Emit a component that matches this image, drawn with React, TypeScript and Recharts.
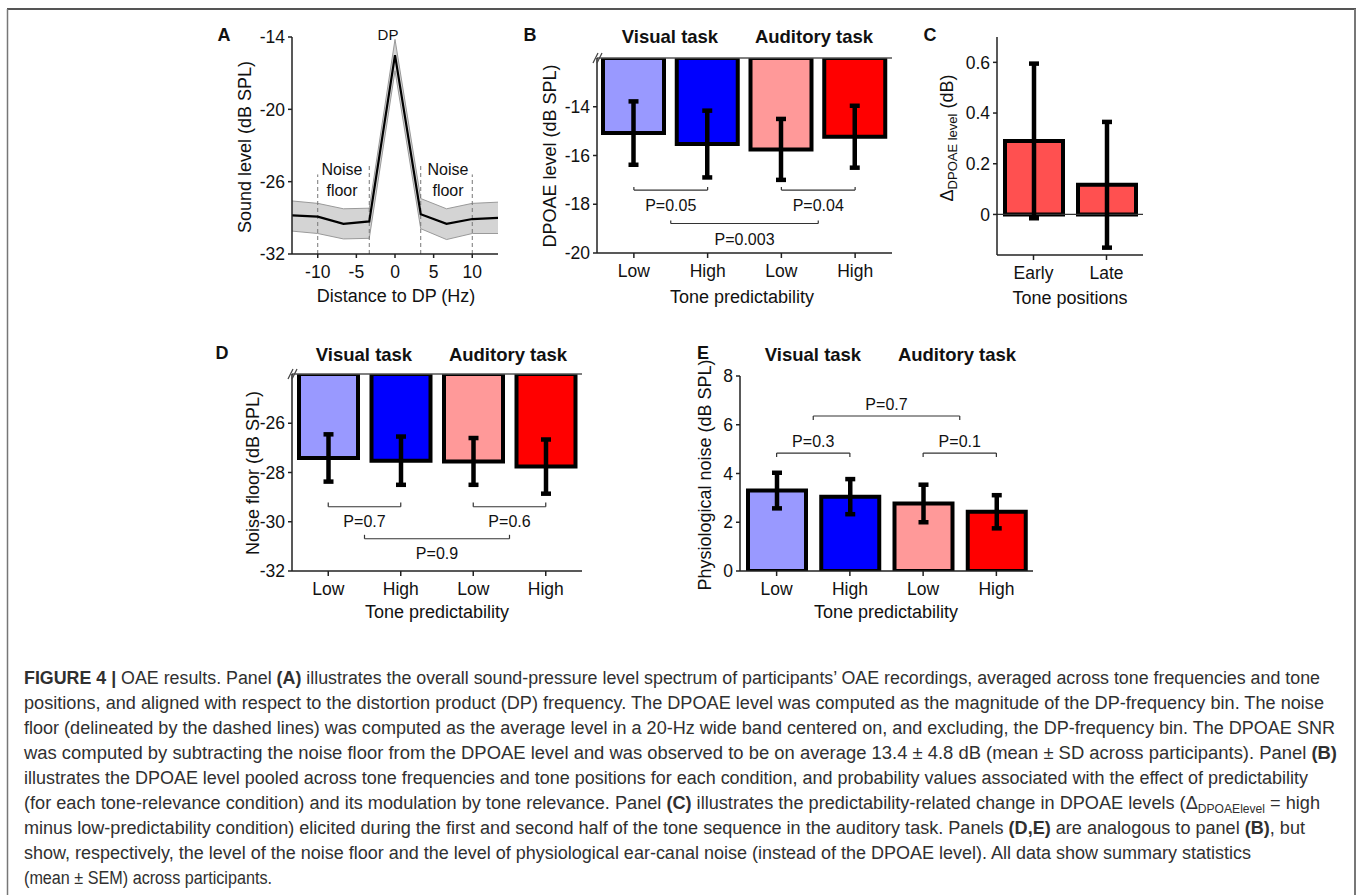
import React from "react";
import {
  BarChart,
  Bar,
  Cell,
  ErrorBar,
  XAxis,
  YAxis,
  ReferenceLine,
  ComposedChart,
  Area,
  Line,
} from "recharts";

const FONT = '"Liberation Sans", Arial, Helvetica, sans-serif';
const INK = "#111";
const AXIS = "#222";

// Panel A: spectrum around the DP bin (bins ~3.33 Hz apart)
const freqA = [-13.33, -10, -6.67, -3.33, 0, 3.33, 6.67, 10, 13.33];
const meanA = [-28.8, -28.9, -29.5, -29.3, -15.5, -28.7, -29.5, -29.1, -29.0];
const lowA = [-30.1, -30.3, -30.75, -30.7, -16.8, -29.9, -30.8, -30.3, -30.3];
const highA = [-27.6, -27.8, -28.25, -28.2, -14.2, -27.4, -28.25, -27.8, -27.7];
const ticksAX = [-10, -5, 0, 5, 10];
const ticksAY = [-32, -26, -20, -14];
const noiseEdgesA = [-10, -3.33, 3.33, 10];
const noiseEdgeTopA = [-25.4, -24.7, -24.7, -25.4];

// Panels B, D, E: visual task (low, high), auditory task (low, high)
const predictability = ["Low", "High", "Low", "High"];
const condColors = ["#9999ff", "#0000ff", "#ff9999", "#ff0000"];
const dpoaeMean = [-15.08, -15.53, -15.75, -15.23];
const dpoaeSem = [1.3, 1.37, 1.25, 1.27];
const noiseMean = [-27.41, -27.52, -27.55, -27.76];
const noiseSem = [0.96, 0.98, 0.95, 1.1];
const physMean = [3.3, 3.05, 2.77, 2.43];
const physSem = [0.73, 0.72, 0.77, 0.68];

// Panel C: high minus low predictability, auditory task
const tonePositions = ["Early", "Late"];
const deltaMean = [0.29, 0.117];
const deltaSem = [0.305, 0.248];

// significance brackets, x in bar slots (0.5 = first bar centre)
type Bracket = { x1: number; x2: number; y: number; end: number; p: string };
const bracketsB: Bracket[] = [
  { x1: 0.5, x2: 1.5, y: -17.42, end: -17.29, p: "P=0.05" },
  { x1: 2.5, x2: 3.5, y: -17.42, end: -17.29, p: "P=0.04" },
  { x1: 1, x2: 3, y: -18.79, end: -18.67, p: "P=0.003" },
];
const bracketsD: Bracket[] = [
  { x1: 0.5, x2: 1.5, y: -29.39, end: -29.22, p: "P=0.7" },
  { x1: 2.5, x2: 3.5, y: -29.39, end: -29.22, p: "P=0.6" },
  { x1: 1, x2: 3, y: -30.69, end: -30.53, p: "P=0.9" },
];
const bracketsE: Bracket[] = [
  { x1: 0.5, x2: 1.5, y: 4.84, end: 4.68, p: "P=0.3" },
  { x1: 2.5, x2: 3.5, y: 4.84, end: 4.68, p: "P=0.1" },
  { x1: 1, x2: 3, y: 6.36, end: 6.2, p: "P=0.7" },
];

// caption lines: [text, style] where b = bold, s = subscript
type Seg = [string, "" | "b" | "s"];
const captionLines: Seg[][] = [
  [["FIGURE 4 |", "b"], [" OAE results. Panel ", ""], ["(A)", "b"], [" illustrates the overall sound-pressure level spectrum of participants\u2019 OAE recordings, averaged across tone frequencies and tone", ""]],
  [["positions, and aligned with respect to the distortion product (DP) frequency. The DPOAE level was computed as the magnitude of the DP-frequency bin. The noise", ""]],
  [["floor (delineated by the dashed lines) was computed as the average level in a 20-Hz wide band centered on, and excluding, the DP-frequency bin. The DPOAE SNR", ""]],
  [["was computed by subtracting the noise floor from the DPOAE level and was observed to be on average 13.4 \u00b1 4.8 dB (mean \u00b1 SD across participants). Panel ", ""], ["(B)", "b"]],
  [["illustrates the DPOAE level pooled across tone frequencies and tone positions for each condition, and probability values associated with the effect of predictability", ""]],
  [["(for each tone-relevance condition) and its modulation by tone relevance. Panel ", ""], ["(C)", "b"], [" illustrates the predictability-related change in DPOAE levels (\u0394", ""], ["DPOAElevel", "s"], [" = high", ""]],
  [["minus low-predictability condition) elicited during the first and second half of the tone sequence in the auditory task. Panels ", ""], ["(D,E)", "b"], [" are analogous to panel ", ""], ["(B)", "b"], [", but", ""]],
  [["show, respectively, the level of the noise floor and the level of physiological ear-canal noise (instead of the DPOAE level). All data show summary statistics", ""]],
  [["(mean \u00b1 SEM) across participants.", ""]],
];
const captionEnds = [1320, 1324, 1335, 1337, 1308, 1320, 1305, 1251, 272];

const tickStyle = { fontSize: 17.5, fill: INK, fontFamily: FONT };
const axisLine = { stroke: AXIS, strokeWidth: 1.5 };
const tickLine = { stroke: AXIS, strokeWidth: 1.5 };

function bracketLines(list: Bracket[], pos: "top" | "bottom", offset: number) {
  return list.flatMap((b, i) => [
    <ReferenceLine
      key={`h${i}`}
      xAxisId="n"
      ifOverflow="visible"
      segment={[{ x: b.x1, y: b.y }, { x: b.x2, y: b.y }]}
      stroke="#333"
      strokeWidth={1.2}
      label={{ value: b.p, position: pos, offset, fontSize: 16, fill: INK, fontFamily: FONT }}
    />,
    <ReferenceLine key={`l${i}`} xAxisId="n" ifOverflow="visible" segment={[{ x: b.x1, y: b.y }, { x: b.x1, y: b.end }]} stroke="#333" strokeWidth={1.2} />,
    <ReferenceLine key={`r${i}`} xAxisId="n" ifOverflow="visible" segment={[{ x: b.x2, y: b.y }, { x: b.x2, y: b.end }]} stroke="#333" strokeWidth={1.2} />,
  ]);
}

function Txt({ x, y, size = 18, bold = false, rotate = 0, children }: any) {
  return (
    <div
      style={{
        position: "absolute",
        left: x,
        top: y,
        transform: `translate(-50%, -50%) rotate(${rotate}deg)`,
        fontSize: size,
        fontWeight: bold ? 700 : 400,
        whiteSpace: "nowrap",
        lineHeight: 1,
      }}
    >
      {children}
    </div>
  );
}

function Pos({ left, top, children }: any) {
  return <div style={{ position: "absolute", left, top }}>{children}</div>;
}

function PanelA() {
  const data = freqA.map((f, i) => ({ f, mean: meanA[i], band: [lowA[i], highA[i]] }));
  return (
    <ComposedChart width={310} height={300} data={data} margin={{ top: 17, right: 12, bottom: 41, left: 30 }}>
      <XAxis
        dataKey="f"
        type="number"
        domain={[-13.33, 13.33]}
        ticks={ticksAX}
        allowDataOverflow
        height={25}
        tick={tickStyle}
        tickSize={4}
        tickMargin={8}
        axisLine={axisLine}
        tickLine={tickLine}
      />
      <YAxis
        type="number"
        domain={[-32, -14]}
        ticks={ticksAY}
        allowDataOverflow
        width={62}
        tick={tickStyle}
        tickSize={4}
        tickMargin={3}
        axisLine={axisLine}
        tickLine={tickLine}
      />
      <Area dataKey="band" type="linear" fill="#d4d4d4" fillOpacity={1} stroke="#9a9a9a" strokeWidth={1} isAnimationActive={false} />
      {noiseEdgesA.map((x, i) => (
        <ReferenceLine
          key={i}
          segment={[{ x, y: -32 }, { x, y: noiseEdgeTopA[i] }]}
          stroke="#777"
          strokeWidth={1}
          strokeDasharray="4 3"
        />
      ))}
      <Line dataKey="mean" type="linear" stroke="#000" strokeWidth={2.2} dot={false} isAnimationActive={false} />
    </ComposedChart>
  );
}

function TaskBars({ mean, sem, domain, ticks, brackets, labelPos, labelOffset, hanging, margin, yWidth, width, height, barSize }: any) {
  // slot = bar centre on a 0..4 scale, used only to place the brackets
  const data = predictability.map((name, i) => ({ name, slot: i + 0.5, value: mean[i], sem: sem[i] }));
  return (
    <BarChart width={width} height={height} data={data} margin={margin}>
      <XAxis
        dataKey="name"
        allowDuplicatedCategory
        interval={0}
        height={30}
        tick={tickStyle}
        tickSize={5}
        tickMargin={7}
        axisLine={axisLine}
        tickLine={tickLine}
      />
      <XAxis xAxisId="n" dataKey="slot" type="number" domain={[0, 4]} ticks={[0, 1, 2, 3, 4]} allowDataOverflow hide />
      <YAxis
        type="number"
        domain={domain}
        ticks={ticks}
        allowDataOverflow
        width={yWidth}
        tick={tickStyle}
        tickSize={4}
        tickMargin={3}
        axisLine={axisLine}
        tickLine={tickLine}
      />
      {hanging && <ReferenceLine y={domain[1]} stroke="#555" strokeWidth={1.5} />}
      <Bar dataKey="value" barSize={barSize} stroke="#000" strokeWidth={4} isAnimationActive={false}>
        {data.map((_, i) => (
          <Cell key={i} fill={condColors[i]} />
        ))}
        <ErrorBar dataKey="sem" width={5} strokeWidth={4.5} stroke="#000" direction="y" isAnimationActive={false} />
      </Bar>
      {bracketLines(brackets, labelPos, labelOffset)}
    </BarChart>
  );
}

function PanelC() {
  const data = tonePositions.map((pos, i) => ({ pos, delta: deltaMean[i], sem: deltaSem[i] }));
  return (
    <BarChart width={250} height={300} data={data} margin={{ top: 17, right: 7, bottom: 35, left: 52 }}>
      <XAxis
        dataKey="pos"
        interval={0}
        height={30}
        tick={tickStyle}
        tickSize={5}
        tickMargin={7}
        axisLine={axisLine}
        tickLine={tickLine}
      />
      <YAxis
        type="number"
        domain={[-0.16, 0.7]}
        ticks={[0, 0.2, 0.4, 0.6]}
        tickFormatter={(v: number) => (v === 0 ? "0" : v.toFixed(1))}
        allowDataOverflow
        width={45}
        tick={tickStyle}
        tickSize={4}
        tickMargin={3}
        axisLine={axisLine}
        tickLine={tickLine}
      />
      <ReferenceLine y={0} stroke="#333" strokeWidth={1.2} />
      <Bar dataKey="delta" fill="#ff5050" stroke="#000" strokeWidth={4} barSize={58} isAnimationActive={false}>
        <ErrorBar dataKey="sem" width={5} strokeWidth={4.5} stroke="#000" direction="y" isAnimationActive={false} />
      </Bar>
    </BarChart>
  );
}

function Caption() {
  return (
    <>
      {captionLines.map((segs, i) => (
        <text
          key={i}
          x={24}
          y={684 + i * 25}
          fontSize={18}
          fill="#303030"
          fontFamily={FONT}
          textLength={captionEnds[i] - 24}
          lengthAdjust="spacingAndGlyphs"
          style={{ whiteSpace: "pre" }}
        >
          {segs.map(([t, s], j) =>
            s === "s" ? (
              <tspan key={j} fontSize={12} dy={4}>
                {t}
              </tspan>
            ) : (
              <tspan key={j} fontWeight={s === "b" ? 700 : 400} dy={j > 0 && segs[j - 1][1] === "s" ? -4 : 0}>
                {t}
              </tspan>
            )
          )}
        </text>
      ))}
    </>
  );
}

export default function App() {
  return (
    <div
      style={{
        position: "absolute",
        left: 0,
        top: 0,
        width: 1358,
        height: 895,
        background: "#fff",
        fontFamily: FONT,
        color: INK,
        overflow: "hidden",
      }}
    >
      <svg width={1358} height={895} style={{ position: "absolute", left: 0, top: 0 }}>
        <line x1={7} y1={9} x2={1356} y2={9} stroke="#555" strokeWidth={2} />
        <line x1={7.5} y1={9} x2={7.5} y2={895} stroke="#777" strokeWidth={1.5} />
        <line x1={1355} y1={9} x2={1355} y2={895} stroke="#777" strokeWidth={2} />
        <Caption />
      </svg>

      <Pos left={200} top={20}>
        <PanelA />
      </Pos>
      <Pos left={500} top={20}>
        <TaskBars
          mean={dpoaeMean}
          sem={dpoaeSem}
          domain={[-20, -12]}
          ticks={[-20, -18, -16, -14]}
          brackets={bracketsB}
          labelPos="bottom"
          labelOffset={10}
          hanging
          width={400}
          height={300}
          yWidth={57}
          barSize={61}
          margin={{ top: 38, right: 8, bottom: 37, left: 40 }}
        />
      </Pos>
      <Pos left={900} top={20}>
        <PanelC />
      </Pos>
      <Pos left={200} top={335}>
        <TaskBars
          mean={noiseMean}
          sem={noiseSem}
          domain={[-32, -24]}
          ticks={[-32, -30, -28, -26]}
          brackets={bracketsD}
          labelPos="bottom"
          labelOffset={9}
          hanging
          width={390}
          height={290}
          yWidth={57}
          barSize={59}
          margin={{ top: 39, right: 8, bottom: 24, left: 35 }}
        />
      </Pos>
      <Pos left={690} top={335}>
        <TaskBars
          mean={physMean}
          sem={physSem}
          domain={[0, 8]}
          ticks={[0, 2, 4, 6, 8]}
          brackets={bracketsE}
          labelPos="top"
          labelOffset={6}
          hanging={false}
          width={350}
          height={290}
          yWidth={30}
          barSize={58}
          margin={{ top: 41, right: 7, bottom: 24, left: 20 }}
        />
      </Pos>

      {/* panel letters */}
      <Txt x={224} y={35} bold>A</Txt>
      <Txt x={530} y={35} bold>B</Txt>
      <Txt x={930} y={35} bold>C</Txt>
      <Txt x={222} y={353} bold>D</Txt>
      <Txt x={703} y={353} bold>E</Txt>

      {/* task headers */}
      <Txt x={670} y={37} size={18.5} bold>Visual task</Txt>
      <Txt x={814} y={37} size={18.5} bold>Auditory task</Txt>
      <Txt x={364} y={355} size={18.5} bold>Visual task</Txt>
      <Txt x={508} y={355} size={18.5} bold>Auditory task</Txt>
      <Txt x={813} y={355} size={18.5} bold>Visual task</Txt>
      <Txt x={957} y={355} size={18.5} bold>Auditory task</Txt>

      {/* panel A annotations */}
      <Txt x={388} y={34} size={15}>DP</Txt>
      <Txt x={342} y={170} size={16}>Noise</Txt>
      <Txt x={342} y={191} size={16}>floor</Txt>
      <Txt x={448} y={170} size={16}>Noise</Txt>
      <Txt x={448} y={191} size={16}>floor</Txt>

      {/* axis titles */}
      <Txt x={245} y={147} rotate={-90}>Sound level (dB SPL)</Txt>
      <Txt x={396} y={296}>Distance to DP (Hz)</Txt>
      <Txt x={550} y={156} rotate={-90}>DPOAE level (dB SPL)</Txt>
      <Txt x={742} y={297}>Tone predictability</Txt>
      <Txt x={947} y={138} rotate={-90}>
        {"\u0394"}
        <span style={{ fontSize: 13, position: "relative", top: 4 }}>DPOAE level</span> (dB)
      </Txt>
      <Txt x={1070} y={298}>Tone positions</Txt>
      <Txt x={253} y={473} rotate={-90}>Noise floor (dB SPL)</Txt>
      <Txt x={437} y={612}>Tone predictability</Txt>
      <Txt x={705} y={475} rotate={-90}>Physiological noise (dB SPL)</Txt>
      <Txt x={886} y={612}>Tone predictability</Txt>

      {/* axis break marks */}
      <svg width={1358} height={895} style={{ position: "absolute", left: 0, top: 0, pointerEvents: "none" }}>
        <line x1={593} y1={63} x2={598} y2={53} stroke="#444" strokeWidth={1.2} />
        <line x1={597} y1={63} x2={602} y2={53} stroke="#444" strokeWidth={1.2} />
        <line x1={288} y1={379} x2={293} y2={369} stroke="#444" strokeWidth={1.2} />
        <line x1={292} y1={379} x2={297} y2={369} stroke="#444" strokeWidth={1.2} />
      </svg>
    </div>
  );
}
